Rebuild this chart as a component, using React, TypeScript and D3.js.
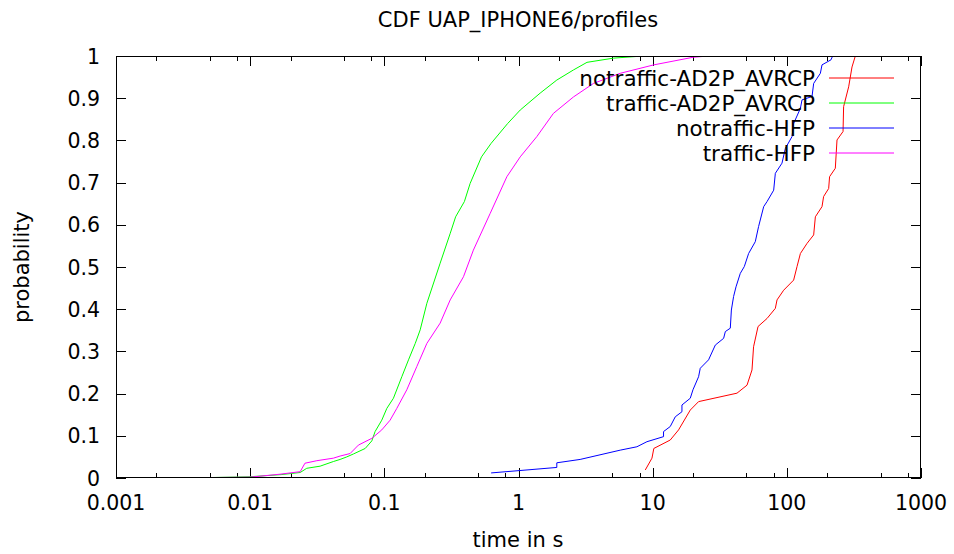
import * as d3 from 'd3';
import React, { useRef, useEffect } from 'react';

// [time in s, cumulative probability]
const notrafficA2dp: [number, number][] = [
  [8.81, 0.019], [9.88, 0.047], [10.2, 0.07], [13.52, 0.09], [15.6, 0.114],
  [19.07, 0.161], [21.99, 0.181], [42.5, 0.201], [50.5, 0.22], [55, 0.256],
  [56.5, 0.311], [61, 0.359], [71.2, 0.378], [82.1, 0.402], [84.5, 0.422],
  [94.7, 0.445], [112.4, 0.469], [119.1, 0.501], [126.2, 0.532], [141.5, 0.556],
  [158.5, 0.576], [163.2, 0.619], [182.9, 0.643], [188, 0.667], [205, 0.686],
  [208.3, 0.714], [229.8, 0.734], [236.6, 0.801], [262.4, 0.821], [265, 0.88],
  [289, 0.927], [306, 0.974], [324, 1.0],
];

const trafficA2dp: [number, number][] = [
  [0.001, 0], [0.005, 0.001], [0.01, 0.003], [0.017, 0.008], [0.0236, 0.013],
  [0.0264, 0.023], [0.0332, 0.028], [0.0417, 0.039], [0.0468, 0.044], [0.0525, 0.05],
  [0.0589, 0.057], [0.072, 0.07], [0.0807, 0.088], [0.0853, 0.11], [0.0957, 0.137],
  [0.1044, 0.165], [0.1169, 0.189], [0.135, 0.24], [0.1514, 0.28], [0.17, 0.319],
  [0.185, 0.351], [0.2075, 0.414], [0.2606, 0.509], [0.31, 0.58], [0.34, 0.619],
  [0.395, 0.655], [0.436, 0.698], [0.53, 0.761], [0.625, 0.793], [0.83, 0.84],
  [1.03, 0.872], [1.45, 0.912], [1.93, 0.943], [2.57, 0.967], [3.24, 0.985],
  [5.11, 0.995], [8.5, 1],
];

const notrafficHfp: [number, number][] = [
  [0.625, 0.012], [1.93, 0.025], [1.93, 0.036], [2.88, 0.044], [5.73, 0.066],
  [7.63, 0.074], [9.06, 0.086], [12.05, 0.098], [12.05, 0.11], [13.52, 0.122],
  [14.74, 0.145], [16.53, 0.157], [16.53, 0.173], [19.07, 0.189], [19.97, 0.209],
  [21.99, 0.24], [22.63, 0.26], [26.1, 0.28], [29.3, 0.315], [33.8, 0.331],
  [34.8, 0.347], [37.9, 0.355], [38.6, 0.398], [40.1, 0.43], [41.8, 0.453],
  [45, 0.485], [48.2, 0.501], [51.9, 0.532], [58.2, 0.56], [61.6, 0.596],
  [67.2, 0.643], [71.2, 0.655], [79.8, 0.682], [82.1, 0.722], [92, 0.746],
  [97.5, 0.781], [109.3, 0.809], [112.4, 0.84], [126.2, 0.876], [129.8, 0.896],
  [154.1, 0.904], [158.5, 0.935], [177.8, 0.959], [182.9, 0.979], [213.4, 0.991],
  [219.4, 1.0],
];

const trafficHfp: [number, number][] = [
  [0.001, 0], [0.005, 0.001], [0.01, 0.002], [0.0167, 0.009], [0.0236, 0.015],
  [0.0256, 0.035], [0.0314, 0.041], [0.0417, 0.047], [0.0468, 0.052], [0.0556, 0.058],
  [0.0641, 0.078], [0.0807, 0.094], [0.0957, 0.114], [0.1104, 0.137], [0.1239, 0.165],
  [0.147, 0.209], [0.1746, 0.264], [0.2075, 0.319], [0.2606, 0.367], [0.3097, 0.422],
  [0.389, 0.477], [0.461, 0.54], [0.615, 0.627], [0.819, 0.714], [1.03, 0.761],
  [1.37, 0.809], [1.82, 0.864], [2.57, 0.903], [3.62, 0.935], [5.73, 0.959],
  [10.2, 0.979], [20, 0.997], [26, 1],
];

const seriesNames = ['notraffic-AD2P_AVRCP', 'traffic-AD2P_AVRCP', 'notraffic-HFP', 'traffic-HFP'];
const seriesColors = ['#ff0000', '#00ff00', '#0000ff', '#ff00ff'];
const xTickValues = [0.001, 0.01, 0.1, 1, 10, 100, 1000];
const xTickLabels = ['0.001', '0.01', '0.1', '1', '10', '100', '1000'];
const yTickValues = [0, 0.1, 0.2, 0.3, 0.4, 0.5, 0.6, 0.7, 0.8, 0.9, 1];

function App() {
  const svgRef = useRef<SVGSVGElement>(null);

  useEffect(() => {
    const width = 954, height = 554;
    const left = 116, right = 921, top = 56, bottom = 478;
    const font = 'DejaVu Sans, sans-serif';

    const svg = d3.select(svgRef.current).attr('width', width).attr('height', height);
    svg.selectAll('*').remove();

    const x = d3.scaleLog().domain([0.001, 1000]).range([left, right]);
    const y = d3.scaleLinear().domain([0, 1]).range([bottom, top]);

    // minor ticks (2, 5, 8 in each decade)
    const minor: number[] = [];
    for (let e = -3; e < 3; e++) [2, 5, 8].forEach((m) => minor.push(m * Math.pow(10, e)));

    const g = svg.append('g').attr('stroke', '#000').attr('stroke-width', 1);
    minor.forEach((v) => {
      const px = Math.round(x(v)) + 0.5;
      g.append('line').attr('x1', px).attr('x2', px).attr('y1', bottom).attr('y2', bottom - 5);
      g.append('line').attr('x1', px).attr('x2', px).attr('y1', top).attr('y2', top + 5);
    });
    xTickValues.forEach((v) => {
      const px = Math.round(x(v)) + 0.5;
      g.append('line').attr('x1', px).attr('x2', px).attr('y1', bottom).attr('y2', bottom - 10);
      g.append('line').attr('x1', px).attr('x2', px).attr('y1', top).attr('y2', top + 10);
    });
    yTickValues.forEach((v) => {
      const py = Math.round(y(v)) + 0.5;
      g.append('line').attr('x1', left).attr('x2', left + 10).attr('y1', py).attr('y2', py);
      g.append('line').attr('x1', right).attr('x2', right - 10).attr('y1', py).attr('y2', py);
    });

    // tick labels
    xTickValues.forEach((v, i) => {
      svg.append('text').attr('x', x(v)).attr('y', 510)
        .attr('text-anchor', 'middle').attr('font-family', font).attr('font-size', 20.5)
        .text(xTickLabels[i]);
    });
    yTickValues.forEach((v) => {
      svg.append('text').attr('x', 100).attr('y', y(v) + 7.5)
        .attr('text-anchor', 'end').attr('font-family', font).attr('font-size', 20.5)
        .text(d3.format('~g')(v));
    });

    // data lines
    svg.append('clipPath').attr('id', 'plotclip').append('rect')
      .attr('x', left).attr('y', top).attr('width', right - left).attr('height', bottom - top);
    const line = d3.line<[number, number]>().x((d) => x(d[0])).y((d) => y(d[1]));
    [notrafficA2dp, trafficA2dp, notrafficHfp, trafficHfp].forEach((s, i) => {
      svg.append('path').datum(s)
        .attr('clip-path', 'url(#plotclip)')
        .attr('fill', 'none').attr('stroke', seriesColors[i]).attr('stroke-width', 1)
        .attr('d', line);
    });

    // legend
    seriesNames.forEach((name, i) => {
      const ly = 78 + i * 25;
      svg.append('text').attr('x', 815).attr('y', ly + 7.5)
        .attr('text-anchor', 'end').attr('font-family', font).attr('font-size', 21.5)
        .attr('font-variant-ligatures', 'none')
        .text(name);
      svg.append('line').attr('x1', 829).attr('x2', 894).attr('y1', ly).attr('y2', ly)
        .attr('stroke', seriesColors[i]).attr('stroke-width', 1);
    });

    // frame
    svg.append('rect').attr('x', left + 0.5).attr('y', top + 0.5)
      .attr('width', right - left - 1).attr('height', bottom - top - 1)
      .attr('fill', 'none').attr('stroke', '#000').attr('stroke-width', 1);

    // title and axis labels
    svg.append('text').attr('x', 518).attr('y', 27).attr('text-anchor', 'middle')
      .attr('font-family', font).attr('font-size', 21).text('CDF UAP_IPHONE6/profiles');
    svg.append('text').attr('x', 518).attr('y', 547).attr('text-anchor', 'middle')
      .attr('font-family', font).attr('font-size', 21).text('time in s');
    svg.append('text').attr('transform', 'translate(29,267) rotate(-90)').attr('text-anchor', 'middle')
      .attr('font-family', font).attr('font-size', 21).text('probability');
  }, []);

  return (
    <>
      <svg ref={svgRef} style={{ position: 'absolute', left: 0, top: 0, background: '#fff' }}></svg>
    </>
  );
}

export default App;
